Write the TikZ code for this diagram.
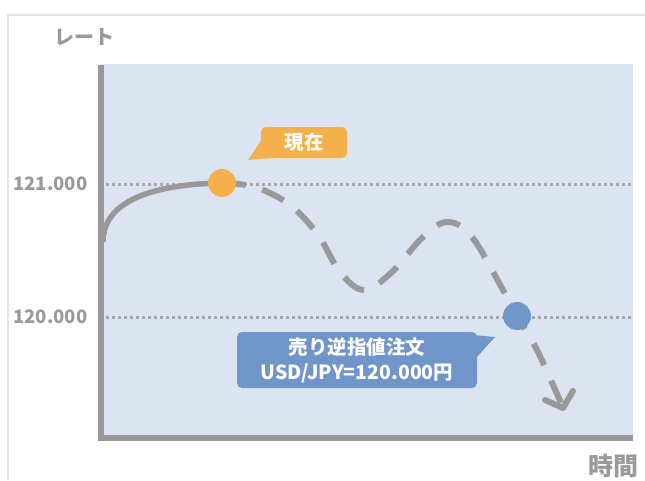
\documentclass[tikz,border=0pt]{standalone}
\usepackage{fontspec}
\setmainfont{Noto Sans CJK JP}
\definecolor{plotbg}{HTML}{DCE3F1}
\definecolor{axisgray}{HTML}{999999}
\definecolor{txtgray}{HTML}{9A9A9A}
\definecolor{framegray}{HTML}{E6E6E6}
\definecolor{nowor}{HTML}{F4B04A}
\definecolor{stopbl}{HTML}{7096C9}
\tikzset{
  axisline/.style={draw=axisgray, line width=6pt},
  refline/.style={draw=axisgray!85, line width=3pt, dash pattern=on 3pt off 3pt},
  pathline/.style={draw=axisgray, line width=5.5pt},
  futureline/.style={draw=axisgray, line width=6pt, dash pattern=on 24pt off 17pt},
  dotmark/.style={circle, inner sep=0pt, minimum size=28pt},
  callout/.style={rounded corners=5pt, text=white, font=\bfseries\fontsize{19.5}{25}\selectfont, align=center, inner sep=0pt},
  ticklbl/.style={text=txtgray, font=\bfseries\fontsize{18.5}{21}\selectfont},
  axlbl/.style={text=txtgray, font=\bfseries\fontsize{20}{22}\selectfont}
}
\begin{document}
\begin{tikzpicture}[x=1pt,y=-1pt]
\useasboundingbox (0,0) rectangle (645,480);
% frame
\draw[framegray, line width=2pt] (645,15) -- (8,15) -- (8,480);
% plot area
\fill[plotbg] (101,64) rectangle (633,436);
% axes
\draw[axisline] (101,65) -- (101,438) -- (633,438);
% reference lines
\coordinate (r1a) at (106,184);
\coordinate (r1b) at (633,184);
\coordinate (r2a) at (106,317);
\coordinate (r2b) at (633,317);
\draw[refline] (r1a) -- (r1b);
\draw[refline] (r2a) -- (r2b);
% labels
\node[ticklbl, anchor=east] (l121) at (91,184) {121.000};
\node[ticklbl, anchor=east] (l120) at (91,317) {120.000};
\node[axlbl] (ylab) at (84,37) {レート};
\node[axlbl, font=\bfseries\fontsize{25}{27}\selectfont] (xlab) at (613,466) {時間};
% price path
\coordinate (start) at (103,242);
\coordinate (pnow) at (222,183);
\coordinate (pstop) at (517,316);
\draw[pathline] (start) .. controls (103,198) and (160,184) .. (pnow);
\draw[futureline] plot[smooth, tension=0.6] coordinates {(222,183) (255,187) (290,205) (318,235) (340,272) (364,290) (392,272) (422,238) (447,222) (472,237) (503,290) (517,316) (537,350) (561,403)};
\coordinate (tip) at (563,408);
\draw[axisgray, line width=6pt, line cap=round, line join=round] (545,400) -- (tip) -- (573,391);
% markers
\node[dotmark, fill=nowor] (now) at (pnow) {};
\node[dotmark, fill=stopbl] (stop) at (pstop) {};
% callout now
\fill[nowor] (262,139) -- (248,160) -- (270,158) -- cycle;
\node[callout, fill=nowor, minimum width=86pt, minimum height=31pt] (cnow) at (304,142.5) {現在};
% callout stop
\fill[stopbl] (462,334) -- (495,337) -- (476,358) -- cycle;
\node[callout, fill=stopbl, minimum width=240pt, minimum height=56pt] (cstop) at (357,360) {売り逆指値注文\\USD/JPY=120.000円};
\end{tikzpicture}
\end{document}
